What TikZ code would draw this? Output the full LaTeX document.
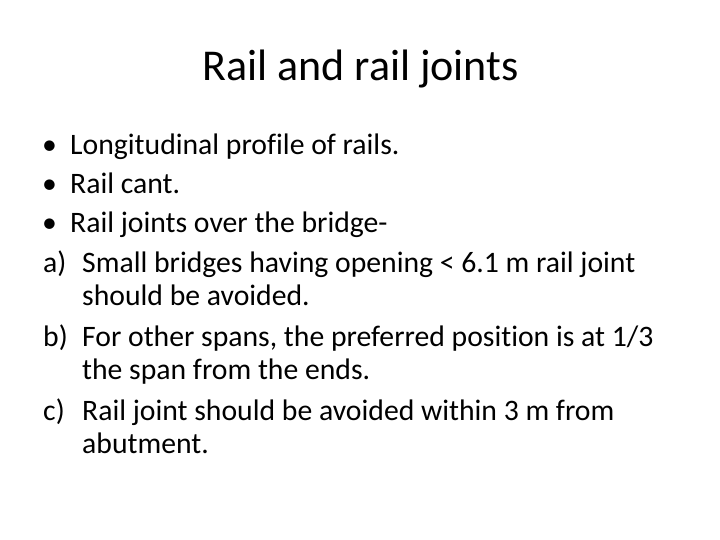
\documentclass[tikz,border=0pt]{standalone}
\usepackage{fontspec}
\setmainfont{Carlito}[Ligatures=NoCommon]
\begin{document}
\begin{tikzpicture}[x=1pt,y=-1pt,
  titletext/.style={font=\fontsize{44}{52}\selectfont,anchor=base,inner sep=0pt},
  bodytext/.style={font=\fontsize{29.7}{34}\selectfont,anchor=base west,inner sep=0pt},
  marktext/.style={font=\fontsize{29.7}{34}\selectfont,anchor=base west,inner sep=0pt}]
\useasboundingbox[fill=white] (0,0) rectangle (720,540);
\node[titletext] (title) at (360.5,81) {Rail and rail joints};
% bullets
\node[marktext] (b1) at (42,155) {•};
\node[bodytext] (t1) at (70,155) {Longitudinal profile of rails.};
\node[marktext] (b2) at (42,194) {•};
\node[bodytext] (t2) at (70,194) {Rail cant.};
\node[marktext] (b3) at (42,233) {•};
\node[bodytext] (t3) at (70,233) {Rail joints over the bridge-};
% lettered items
\node[marktext] (la) at (43,272) {a)};
\node[bodytext] (ta1) at (82,272) {Small bridges having opening < 6.1 m rail joint};
\node[bodytext] (ta2) at (82,305) {should be avoided.};
\node[marktext] (lb) at (43,346) {b)};
\node[bodytext] (tb1) at (82,346) {For other spans, the preferred position is at 1/3};
\node[bodytext] (tb2) at (82,379) {the span from the ends.};
\node[marktext] (lc) at (43,420) {c)};
\node[bodytext] (tc1) at (82,420) {Rail joint should be avoided within 3 m from};
\node[bodytext] (tc2) at (82,453) {abutment.};
\end{tikzpicture}
\end{document}
